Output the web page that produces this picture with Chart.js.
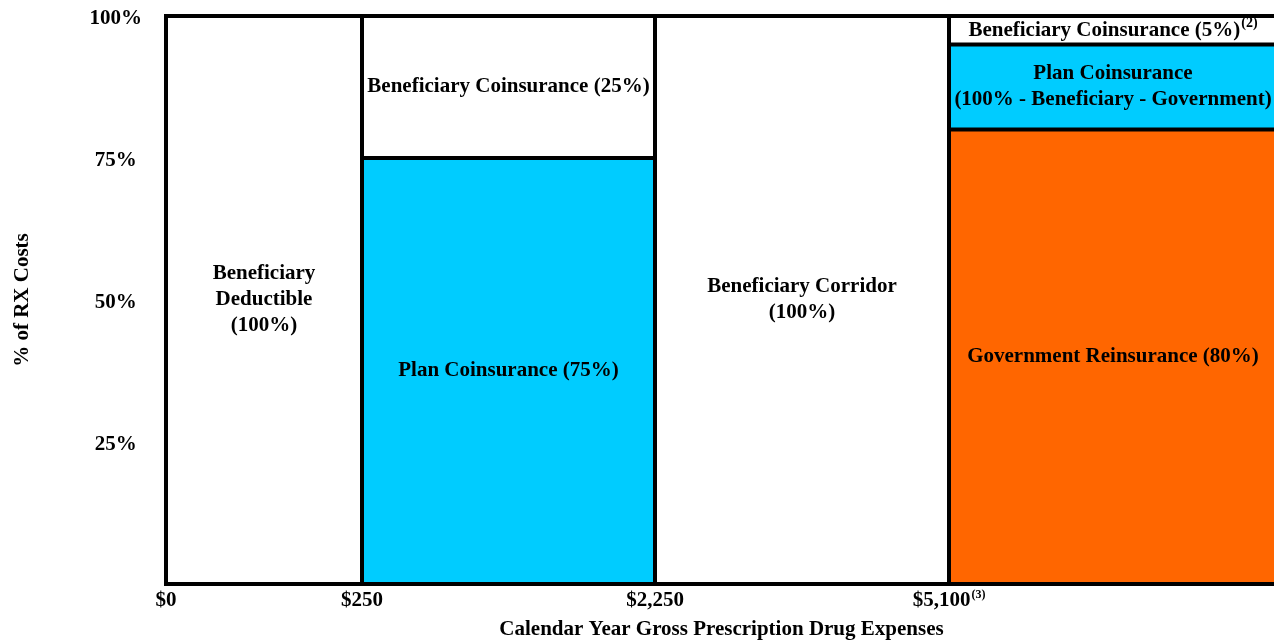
<!DOCTYPE html>
<html>
<head>
<meta charset="utf-8">
<title>Prescription Drug Benefit Cost Sharing</title>
<script src="https://cdn.jsdelivr.net/npm/chart.js@4.4.1/dist/chart.umd.min.js"></script>
<style>
  html, body { margin: 0; padding: 0; overflow: hidden; background: #ffffff; }
  #wrap { width: 1277px; height: 644px; position: relative; }
</style>
</head>
<body>
<div id="wrap"><canvas id="chart"></canvas></div>
<script>
// Gross drug spend thresholds where the benefit phase changes
const thresholds = ['$0', '$250', '$2,250', '$5,100'];
const thresholdNotes = ['', '', '', '(3)'];

// Share of cost (%) paid by each party in each benefit phase
const governmentShare = [0, 0, 0, 80];
const planShare = [0, 75, 0, 15];
const beneficiaryShare = [100, 25, 100, 5];

// Text written inside each block
const governmentText = [null, null, null, ['Government Reinsurance (80%)']];
const planText = [null, ['Plan Coinsurance (75%)'], null, ['Plan Coinsurance', '(100% - Beneficiary - Government)']];
const beneficiaryText = [
  ['Beneficiary', 'Deductible', '(100%)'],
  ['Beneficiary Coinsurance (25%)'],
  ['Beneficiary Corridor', '(100%)'],
  ['Beneficiary Coinsurance (5%)']
];
const beneficiaryNotes = ['', '', '', '(2)'];

// Layout: drawn width of each phase column (not to dollar scale)
const columnWidths = [196, 293, 294, 328];

const FONT_FAMILY = '"Liberation Serif", "Times New Roman", Times, serif';
const MAIN_FONT = 'bold 21px ' + FONT_FAMILY;
const BLOCK_NOTE_FONT = 'bold 14px ' + FONT_FAMILY;
const TICK_NOTE_FONT = 'bold 12px ' + FONT_FAMILY;
const LINE_H = 26;
const X_TICK_PAD = 4;
const axisFont = { family: FONT_FAMILY, size: 21, weight: 'bold' };

const edges = [0];
columnWidths.forEach(w => edges.push(edges[edges.length - 1] + w));

const series = [
  { name: 'Government', values: governmentShare, text: governmentText, notes: ['', '', '', ''], color: '#FF6600' },
  { name: 'Plan', values: planShare, text: planText, notes: ['', '', '', ''], color: '#00CCFF' },
  { name: 'Beneficiary', values: beneficiaryShare, text: beneficiaryText, notes: beneficiaryNotes, color: '#FFFFFF' }
];

// Each block is an outlined rectangle: left edge, top edge, right edge, filled down to its base
const datasets = [];
const blocks = [];
columnWidths.forEach((w, i) => {
  let base = 0;
  series.forEach(s => {
    const v = s.values[i];
    if (!v) return;
    const x0 = edges[i], x1 = edges[i + 1], y0 = base, y1 = base + v;
    datasets.push({
      label: s.name,
      data: [{ x: x0, y: y0 }, { x: x0, y: y1 }, { x: x1, y: y1 }, { x: x1, y: y0 }],
      fill: { value: y0 },
      clip: false,
      backgroundColor: s.color,
      borderColor: '#000000',
      borderWidth: 4,
      borderJoinStyle: 'miter',
      borderCapStyle: 'square',
      pointRadius: 0,
      pointHoverRadius: 0,
      tension: 0
    });
    blocks.push({ x0, x1, y0, y1, lines: s.text[i], note: s.notes[i] });
    base = y1;
  });
});

function drawWithNote(ctx, text, note, noteFont, cx, cy, rise) {
  ctx.font = MAIN_FONT;
  const w1 = ctx.measureText(text).width;
  let w2 = 0;
  if (note) {
    ctx.font = noteFont;
    w2 = ctx.measureText(note).width + 1;
  }
  const left = cx - (w1 + w2) / 2;
  ctx.textAlign = 'left';
  ctx.font = MAIN_FONT;
  ctx.fillText(text, left, cy);
  if (note) {
    ctx.font = noteFont;
    ctx.fillText(note, left + w1 + 1, cy - rise);
  }
}

const blockText = {
  id: 'blockText',
  afterDraw(chart) {
    const { ctx, chartArea, scales: { x, y } } = chart;
    ctx.save();
    ctx.fillStyle = '#000000';
    ctx.textBaseline = 'middle';
    blocks.forEach(b => {
      if (!b.lines) return;
      const cx = (x.getPixelForValue(b.x0) + x.getPixelForValue(b.x1)) / 2;
      const cy = (y.getPixelForValue(b.y0) + y.getPixelForValue(b.y1)) / 2;
      const n = b.lines.length;
      b.lines.forEach((line, k) => {
        const ly = cy + (k - (n - 1) / 2) * LINE_H;
        drawWithNote(ctx, line, k === n - 1 ? b.note : '', BLOCK_NOTE_FONT, cx, ly, 7);
      });
    });
    // threshold labels that carry a footnote marker
    const tickY = chartArea.bottom + X_TICK_PAD + 12.6;
    thresholds.forEach((t, i) => {
      if (thresholdNotes[i]) drawWithNote(ctx, t, thresholdNotes[i], TICK_NOTE_FONT, x.getPixelForValue(edges[i]), tickY, 6);
    });
    ctx.restore();
  }
};

new Chart(document.getElementById('chart'), {
  type: 'line',
  data: { datasets },
  options: {
    responsive: true,
    maintainAspectRatio: false,
    animation: false,
    events: [],
    layout: { padding: { top: 16, right: 0, bottom: 0, left: 0 } },
    plugins: {
      legend: { display: false },
      tooltip: { enabled: false },
      filler: { drawTime: 'beforeDatasetsDraw' }
    },
    scales: {
      x: {
        type: 'linear',
        min: 0,
        max: edges[edges.length - 1],
        afterBuildTicks: s => { s.ticks = thresholds.map((t, i) => ({ value: edges[i] })); },
        afterFit: s => { s.height = 60; s.paddingLeft = 0; s.paddingRight = 0; },
        grid: { display: false, drawTicks: false },
        border: { display: true, color: '#000000', width: 4, z: 1 },
        ticks: {
          callback: (v, i) => thresholds[i],
          font: axisFont,
          color: ctx => thresholdNotes[ctx.index] ? 'rgba(0,0,0,0)' : '#000000',
          padding: X_TICK_PAD,
          maxRotation: 0,
          autoSkip: false
        },
        title: {
          display: true,
          text: 'Calendar Year Gross Prescription Drug Expenses',
          font: axisFont,
          color: '#000000',
          padding: { top: 0, bottom: 2 }
        }
      },
      y: {
        min: 0,
        max: 100,
        afterFit: s => { s.width = 166; s.paddingTop = 0; s.paddingBottom = 0; },
        grid: { display: false, drawTicks: false },
        border: { display: false },
        ticks: {
          stepSize: 25,
          callback: v => v === 0 ? '' : v + '%',
          font: axisFont,
          color: '#000000',
          padding: 24,
          labelOffset: 3,
          crossAlign: 'center'
        },
        title: {
          display: true,
          text: '% of RX Costs',
          font: axisFont,
          color: '#000000',
          padding: { top: 10, bottom: 0 }
        }
      }
    }
  },
  plugins: [blockText]
});
</script>
</body>
</html>
